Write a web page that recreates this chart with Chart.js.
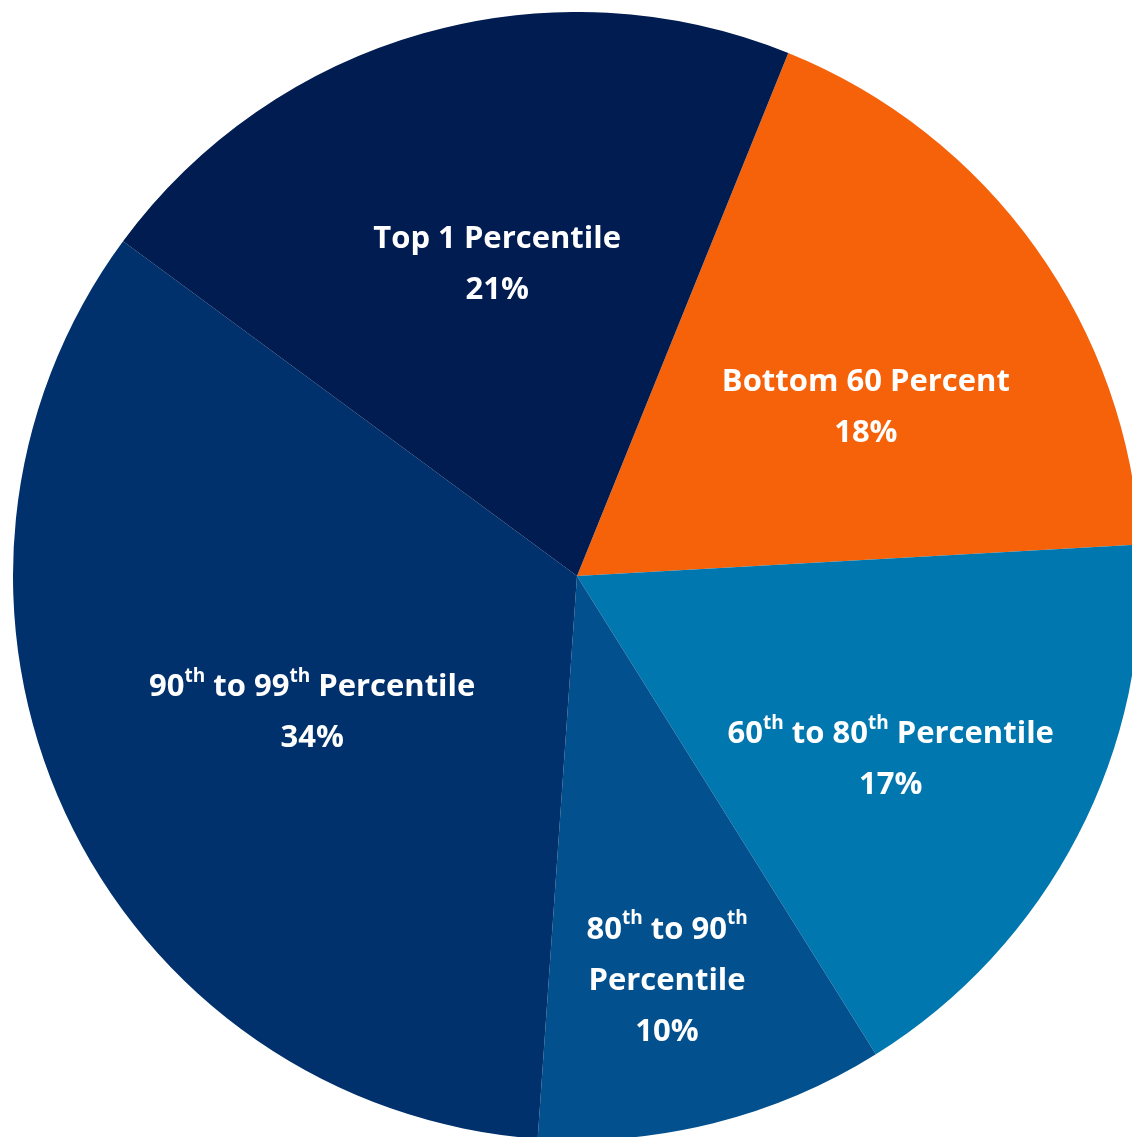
<!DOCTYPE html>
<html>
<head>
<meta charset="utf-8">
<script src="https://cdn.jsdelivr.net/npm/chart.js@4/dist/chart.umd.min.js"></script>
<style>
  html, body { margin: 0; padding: 0; background: #ffffff; overflow: hidden; }
  #wealthPie { position: absolute; left: 13px; top: 12px; }
</style>
</head>
<body>
<canvas id="wealthPie" width="1128" height="1128"></canvas>
<script>
// Share of wealth held by each group, clockwise from the orange slice
const groups = [
    'Bottom 60 Percent',
    '60th to 80th Percentile',
    ['80th to 90th', 'Percentile'],
    '90th to 99th Percentile',
    'Top 1 Percentile'
];
const shares = [18, 17, 10, 34, 21];

const sliceColors = ['#F6620A', '#0077AE', '#02508D', '#01316C', '#011C50'];

// label placement per slice: [angle nudge in degrees, fraction of radius]
const labelSpots = [[5.0, 0.595], [2.7, 0.643], [1.4, 0.732], [-2.2, 0.527], [1.5, 0.573]];

const FONT = '"Open Sans", Lato, sans-serif';
const SIZE = 31;
const SUP = 19;
const LINE = 51;

// split "80th" style words so the "th" can be raised
function pieces(line) {
    const out = [];
    const re = /(\d)(th)\b/g;
    let last = 0, m;
    while ((m = re.exec(line)) !== null) {
        out.push({ t: line.slice(last, m.index + 1), sup: false });
        out.push({ t: 'th', sup: true });
        last = m.index + 3;
    }
    out.push({ t: line.slice(last), sup: false });
    return out.filter(p => p.t.length);
}

function drawLine(ctx, line, cx, cy) {
    const parts = pieces(line);
    let total = 0;
    parts.forEach(p => {
        ctx.font = 'bold ' + (p.sup ? SUP : SIZE) + 'px ' + FONT;
        p.w = ctx.measureText(p.t).width;
        total += p.w;
    });
    let x = cx - total / 2;
    parts.forEach(p => {
        ctx.font = 'bold ' + (p.sup ? SUP : SIZE) + 'px ' + FONT;
        ctx.fillText(p.t, x, p.sup ? cy - 11 : cy);
        x += p.w;
    });
}

const sliceLabels = {
    id: 'sliceLabels',
    afterDatasetsDraw(chart) {
        const ctx = chart.ctx;
        const meta = chart.getDatasetMeta(0);
        ctx.save();
        ctx.fillStyle = '#ffffff';
        ctx.textAlign = 'left';
        ctx.textBaseline = 'middle';
        meta.data.forEach((arc, i) => {
            const p = arc.getProps(['x', 'y', 'startAngle', 'endAngle', 'outerRadius'], true);
            const a = (p.startAngle + p.endAngle) / 2 + labelSpots[i][0] * Math.PI / 180;
            const r = p.outerRadius * labelSpots[i][1];
            const cx = p.x + Math.cos(a) * r;
            const cy = p.y + Math.sin(a) * r + 2;
            const name = chart.data.labels[i];
            const lines = (Array.isArray(name) ? name.slice() : [name]);
            lines.push(shares[i] + '%');
            const top = cy - (lines.length - 1) * LINE / 2;
            lines.forEach((ln, k) => drawLine(ctx, ln, cx, top + k * LINE));
        });
        ctx.restore();
    }
};

new Chart(document.getElementById('wealthPie'), {
    type: 'pie',
    data: {
        labels: groups,
        datasets: [{
            data: shares,
            backgroundColor: sliceColors,
            borderWidth: 0
        }]
    },
    options: {
        responsive: false,
        animation: false,
        devicePixelRatio: 1,
        rotation: 22,
        layout: { padding: 0 },
        plugins: {
            legend: { display: false },
            tooltip: { enabled: false }
        }
    },
    plugins: [sliceLabels]
});
</script>
</body>
</html>
